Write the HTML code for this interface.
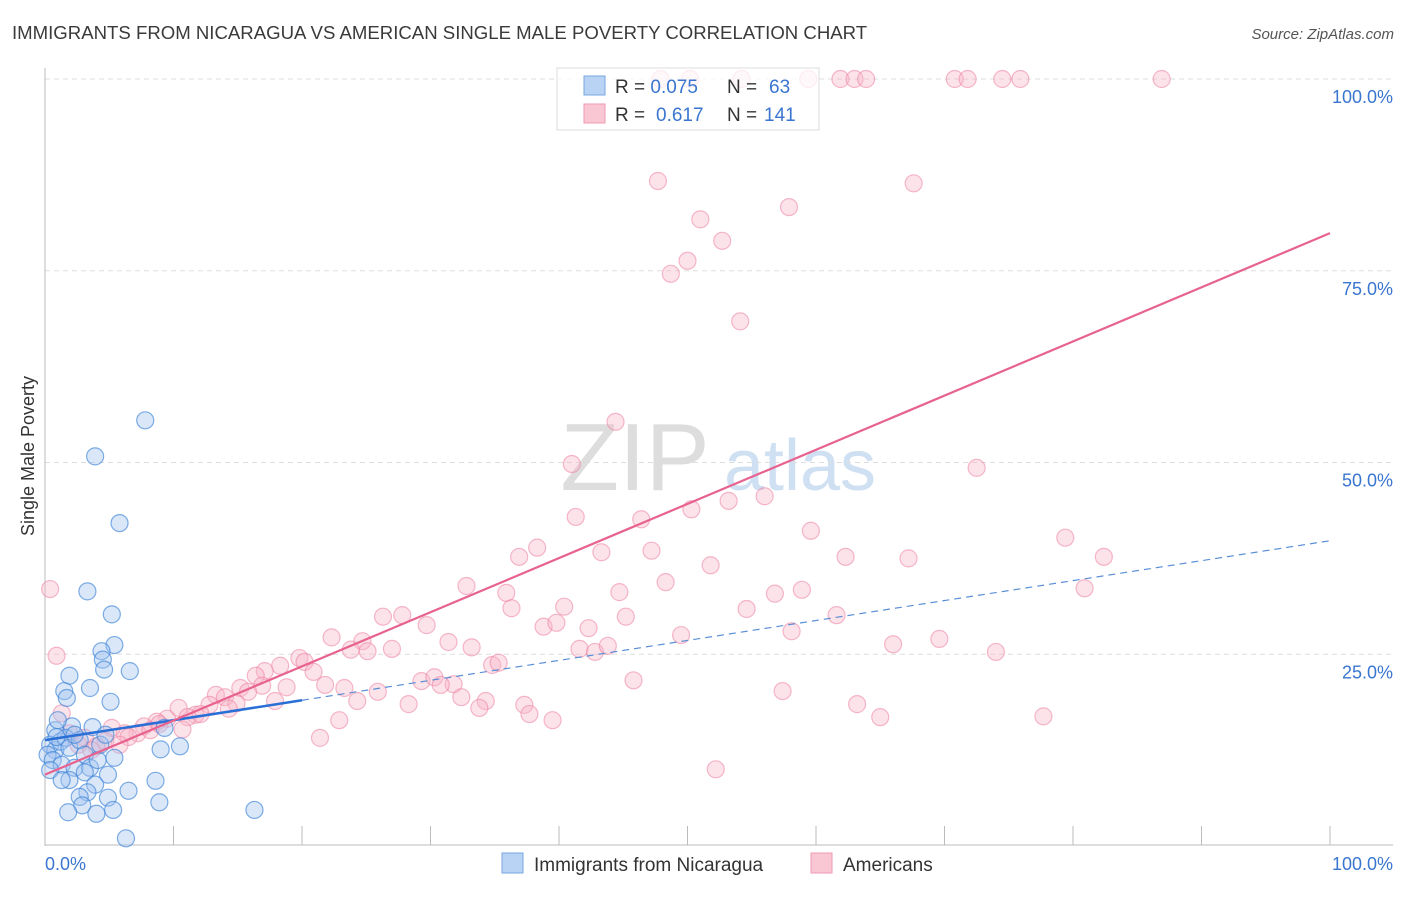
<!DOCTYPE html>
<html><head><meta charset="utf-8"><style>
body{margin:0;background:#fff;font-family:"Liberation Sans",sans-serif;}
svg text{font-family:"Liberation Sans",sans-serif;}
</style></head><body>
<svg id="chart" width="1406" height="892" viewBox="0 0 1406 892">
<text x="12" y="39" font-size="18.6" fill="#3a3a3a">IMMIGRANTS FROM NICARAGUA VS AMERICAN SINGLE MALE POVERTY CORRELATION CHART</text>
<text x="1394" y="39" font-size="15" fill="#555" text-anchor="end" font-style="italic">Source: ZipAtlas.com</text>
<text x="34" y="456" font-size="18" fill="#333" text-anchor="middle" transform="rotate(-90 34 456)">Single Male Poverty</text>
<g><text x="635" y="490" font-size="96" fill="#ddd" font-family="Liberation Serif" text-anchor="middle">ZIP</text><text x="800" y="490" font-size="72" fill="#cfe0f3" text-anchor="middle">atlas</text></g>
<g id="grid"></g><g id="axes"></g><g id="pts"></g><g id="trend"></g>
<g>
<rect x="557" y="68" width="262" height="62" fill="rgba(255,255,255,0.75)" stroke="#ddd"/>
<rect x="584" y="76" width="21" height="19" fill="#b8d3f3" stroke="#7aa7e0"/>
<rect x="584" y="104" width="21" height="19" fill="#f9c6d4" stroke="#ef9ab3"/>
<text x="615" y="93" font-size="19" fill="#333">R = <tspan fill="#3a76d0">0.075</tspan><tspan x="727">N = </tspan><tspan x="769" fill="#3a76d0">63</tspan></text>
<text x="615" y="121" font-size="19" fill="#333">R = <tspan x="656" fill="#3a76d0">0.617</tspan><tspan x="727">N = </tspan><tspan x="764" fill="#3a76d0">141</tspan></text>
</g>
<g>
<rect x="502" y="853" width="21" height="20" fill="#b8d3f3" stroke="#7aa7e0"/>
<text x="534" y="871" font-size="19" fill="#333">Immigrants from Nicaragua</text>
<rect x="811" y="853" width="21" height="20" fill="#f9c6d4" stroke="#ef9ab3"/>
<text x="843" y="871" font-size="19" fill="#333">Americans</text>
</g>
</svg>
<script>
const blueX=[7.8,3.9,5.8,3.3,5.2,5.4,4.4,4.5,4.6,6.6,1.9,3.5,1.5,1.7,5.1,2.1,3.7,0.8,9.3,10.5,9.0,0.4,0.8,1.2,1.6,0.2,0.6,1.9,2.7,3.1,1.3,2.3,3.5,4.1,5.4,4.3,4.9,3.1,1.9,3.9,8.6,3.3,6.5,2.7,4.9,2.9,5.3,1.8,4.0,8.9,16.3,6.3,0.9,2.3,4.7,0.4,1.0,1.3];
const blueY=[55.5,50.8,42.1,33.2,30.2,26.2,25.4,24.3,23.0,22.8,22.2,20.6,20.2,19.3,18.8,15.6,15.5,15.1,15.4,13.0,12.6,13.2,12.5,13.6,14.1,11.9,11.2,12.8,13.8,11.9,10.6,10.2,10.2,11.2,11.5,13.2,9.3,9.6,8.6,8.0,8.5,7.0,7.2,6.4,6.3,5.3,4.7,4.4,4.2,5.7,4.7,1.0,14.2,14.5,14.5,9.9,16.4,8.6];
const pinkX=[47.9,50.2,54.2,59.4,61.9,63.0,63.9,70.8,71.8,74.5,75.9,86.9,47.7,67.6,57.9,51.0,52.7,50.0,48.7,54.1,44.4,41.0,72.5,56.0,53.2,50.3,41.3,46.4,59.6,79.4,38.3,36.9,43.3,47.2,62.3,67.2,82.4,51.8,48.3,32.8,35.9,44.7,56.8,58.9,80.9,36.3,40.4,54.6,61.6,26.3,27.8,29.7,45.2,38.8,39.8,42.3,58.1,49.5,22.3,24.7,69.6,31.4,33.2,66.0,23.8,25.1,27.0,41.6,42.8,43.8,74.0,19.8,20.2,18.3,17.1,20.9,34.8,35.3,16.4,15.2,16.9,18.8,21.8,29.3,30.3,31.8,30.8,23.3,45.8,25.9,15.8,13.3,14.0,17.9,32.4,34.3,57.4,14.9,24.3,28.3,12.8,14.3,10.4,11.7,37.3,33.8,63.2,37.7,65.0,77.7,11.1,12.1,9.5,8.7,22.9,39.5,10.7,7.7,7.2,6.2,5.2,1.3,21.4,1.9,3.1,4.7,4.0,2.6,6.5,8.2,3.6,52.2,0.4,0.9,5.8,8.9];
const pinkY=[100,100,100,100,100,100,100,100,100,100,100,100,86.7,86.4,83.3,81.7,78.9,76.3,74.6,68.4,55.3,49.8,49.3,45.6,45.0,43.9,42.9,42.6,41.1,40.2,38.9,37.7,38.3,38.5,37.7,37.5,37.7,36.6,34.4,33.9,33.0,33.1,32.9,33.4,33.6,31.0,31.2,30.9,30.1,29.9,30.1,28.8,29.9,28.6,29.1,28.4,28.0,27.5,27.2,26.7,27.0,26.6,25.9,26.3,25.6,25.4,25.7,25.7,25.3,26.1,25.3,24.5,24.0,23.5,22.8,22.7,23.6,23.9,22.2,20.6,20.9,20.7,21.0,21.5,22.0,21.1,21.0,20.6,21.6,20.1,20.1,19.7,19.4,18.9,19.4,18.9,20.2,18.6,18.9,18.5,18.4,17.9,18.0,17.1,18.4,18.0,18.5,17.2,16.8,16.9,16.8,17.2,16.6,16.2,16.4,16.4,15.2,15.6,14.7,14.7,15.4,17.3,14.1,14.7,14.1,13.7,13.0,13.2,14.2,15.1,12.5,10.0,33.5,24.8,13.2,15.9];
const blueTrend=[13.8,39.8];
const pinkTrend=[9.3,79.9];
const yTicks=[25,50,75,100];
const yTickLabels=["25.0%","50.0%","75.0%","100.0%"];
const X0=45,X1=1330,Y0=846,Y1=79;
const sx=v=>X0+(X1-X0)*v/100, sy=v=>Y0-(Y0-Y1)*v/100;
const NS="http://www.w3.org/2000/svg";
function mk(p,tag,at){const e=document.createElementNS(NS,tag);for(const k in at)e.setAttribute(k,at[k]);p.appendChild(e);return e;}
const grid=document.getElementById('grid'),axes=document.getElementById('axes');
yTicks.forEach((t,i)=>{
 const l=mk(grid,'line',{x1:45,x2:1393,y1:sy(t),y2:sy(t),stroke:'#ddd','stroke-dasharray':'5,4'});
 
 
 const tx=mk(axes,'text',{x:1393,y:sy(t)+24,'font-size':18,fill:'#3a76d0','text-anchor':'end'});
 tx.textContent=yTickLabels[i];
 
 
});
mk(axes,'line',{x1:45,x2:45,y1:68,y2:846,stroke:'#bbb'});
const xa=mk(axes,'line',{x1:45,x2:1393,y1:845,y2:845,stroke:'#bbb'});


for(let i=0;i<=10;i++){mk(axes,'line',{x1:sx(i*10),x2:sx(i*10),y1:826,y2:845,stroke:'#bbb'});}
const l0=mk(axes,'text',{x:45,y:870,'font-size':18,fill:'#3a76d0'});l0.textContent='0.0%';


const l1=mk(axes,'text',{x:1393,y:870,'font-size':18,fill:'#3a76d0','text-anchor':'end'});l1.textContent='100.0%';


const pts=document.getElementById('pts');
pinkX.forEach((x,i)=>{const c=mk(pts,'circle',{cx:sx(x),cy:sy(pinkY[i]),r:8.5,fill:'rgba(248,182,201,0.4)',stroke:'rgba(236,130,162,0.55)','stroke-width':1.2});
 
 });
blueX.forEach((x,i)=>{const c=mk(pts,'circle',{cx:sx(x),cy:sy(blueY[i]),r:8.5,fill:'rgba(160,196,240,0.4)',stroke:'rgba(60,130,215,0.65)','stroke-width':1.2});
 
 });
const tr=document.getElementById('trend');
const by=x=>blueTrend[0]+(blueTrend[1]-blueTrend[0])*x/100;
const py=x=>pinkTrend[0]+(pinkTrend[1]-pinkTrend[0])*x/100;
const bd=mk(tr,'line',{x1:sx(20),y1:sy(by(20)),x2:sx(100),y2:sy(by(100)),stroke:'#5a8fd6','stroke-width':1.2,'stroke-dasharray':'7,5'});


const bs=mk(tr,'line',{x1:sx(0),y1:sy(by(0)),x2:sx(20),y2:sy(by(20)),stroke:'#2a6fd6','stroke-width':2.5});


const pl=mk(tr,'line',{x1:sx(0),y1:sy(py(0)),x2:sx(100),y2:sy(py(100)),stroke:'#e8628f','stroke-width':2.2});


</script>
</body></html>
